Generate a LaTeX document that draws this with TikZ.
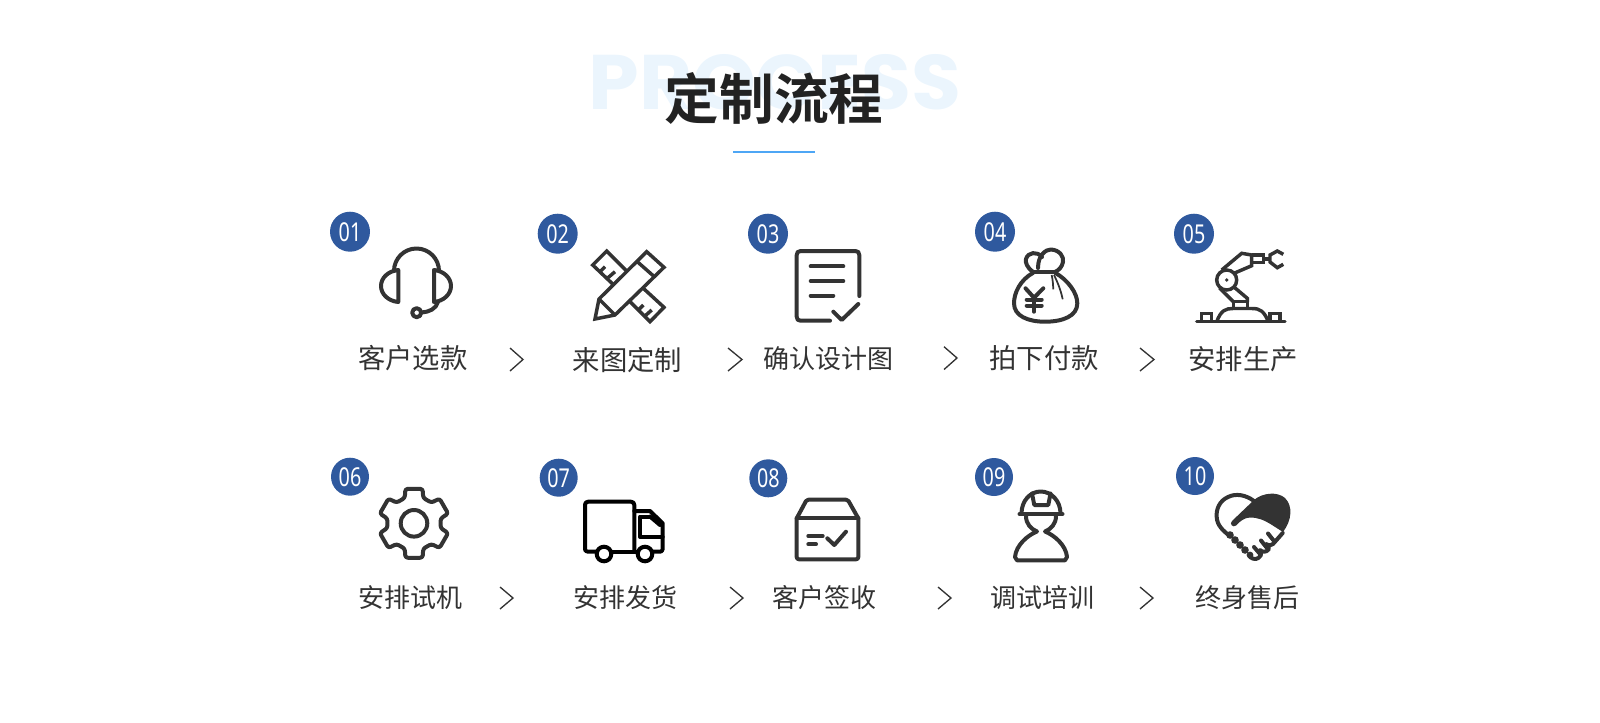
\documentclass[tikz,border=0pt]{standalone}
\usepackage{fontspec}
\usepackage{graphicx}
\usepackage{xcolor}
\newfontfamily\cjk{Noto Sans CJK SC}
\newfontfamily\cjkbold{Noto Sans CJK SC Bold}
\newfontfamily\latinbold{Poppins}[BoldFont=* Bold]
\newfontfamily\digitfont{Noto Sans}
\definecolor{badgeblue}{RGB}{47,89,158}
\definecolor{iconink}{RGB}{51,51,51}
\definecolor{labelink}{RGB}{51,51,51}
\definecolor{titleink}{RGB}{34,34,34}
\definecolor{ghostblue}{RGB}{235,245,253}
\definecolor{ruleblue}{RGB}{77,166,245}
\tikzset{
  badge/.style={circle,fill=badgeblue,text=white,inner sep=0pt,minimum size=#1*0.75pt,font=\digitfont\fontsize{19.5}{19.5}\selectfont},
  steplabel/.style={inner sep=0.75pt,text=labelink,font=\cjk\fontsize{#1}{#1}\selectfont},
  icon/.style={draw=iconink,line width=3pt,line join=round,line cap=round},
  thinicon/.style={draw=iconink,line width=2.6pt,line join=miter},
  truckline/.style={draw=black,line width=3pt,line join=round,line cap=round},
  chevron/.style={draw=iconink,line width=1pt,line join=miter}
}
\newcommand{\narrowdigits}[1]{\scalebox{0.76}[1]{#1}}
\begin{document}
\begin{tikzpicture}[x=0.75pt,y=0.75pt,yscale=-1,xscale=1]
\useasboundingbox (0,0) rectangle (1600,722);

% Text Node
\node (ghost) [inner sep=0.75pt,text=ghostblue,font=\latinbold\bfseries\fontsize{58}{58}\selectfont] at (775,82) {\scalebox{1.05}[1]{PROCESS}};
% Text Node
\node (title) [inner sep=0.75pt,text=titleink,font=\cjkbold\fontsize{41}{41}\selectfont] at (774.3,98) {定制流程};
%Straight Lines
\draw [ruleblue,line width=1.1pt] (733,152) -- (815,152) ;

%Number badges
\node (badgeA) [badge=40] at (350,231.7) {\narrowdigits{01}};
\node (badgeB) [badge=40] at (557.7,233.7) {\narrowdigits{02}};
\node (badgeC) [badge=40] at (768,233.7) {\narrowdigits{03}};
\node (badgeD) [badge=40] at (995,231.7) {\narrowdigits{04}};
\node (badgeE) [badge=40] at (1194,233.7) {\narrowdigits{05}};
\node (badgeF) [badge=38] at (350,476.7) {\narrowdigits{06}};
\node (badgeG) [badge=38] at (558.7,477.7) {\narrowdigits{07}};
\node (badgeH) [badge=38] at (768.3,478.3) {\narrowdigits{08}};
\node (badgeI) [badge=38] at (994,477) {\narrowdigits{09}};
\node (badgeJ) [badge=38] at (1195,476) {\narrowdigits{10}};

% Text Node
\node (labelA) [steplabel=20.5] at (412.7,358) {客户选款};
\node (labelB) [steplabel=20.5] at (627.5,360) {来图定制};
\node (labelC) [steplabel=19.5] at (828.5,359) {确认设计图};
\node (labelD) [steplabel=20.5] at (1044,358) {拍下付款};
\node (labelE) [steplabel=20.5] at (1243,359.5) {安排生产};
\node (labelF) [steplabel=19.5] at (410,597.7) {安排试机};
\node (labelG) [steplabel=19.5] at (625.5,597.7) {安排发货};
\node (labelH) [steplabel=19.5] at (824,597.7) {客户签收};
\node (labelI) [steplabel=19.5] at (1042,597.7) {调试培训};
\node (labelJ) [steplabel=19.5] at (1247,597.7) {终身售后};

%Chevrons
\draw [chevron] (510,348) -- (523,359.5) -- (510,371) ;
\draw [chevron] (728,348) -- (742,359.5) -- (728,371) ;
\draw [chevron] (944,346.7) -- (957,358) -- (944,369.5) ;
\draw [chevron] (1140,348) -- (1154,359.5) -- (1140,371) ;
\draw [chevron] (500,587) -- (513,598) -- (500,609) ;
\draw [chevron] (730,587) -- (743,598) -- (730,609) ;
\draw [chevron] (938,587) -- (951,598) -- (938,609) ;
\draw [chevron] (1140,587) -- (1153,598) -- (1140,609) ;

%Shape: headset
\draw [icon] (394,271) arc (180:360:22.5) ;
\draw [icon] (398.3,270) .. controls (388,271) and (381,278) .. (381,286) .. controls (381,294) and (388,301) .. (398.3,302) -- cycle ;
\draw [icon] (434,270) .. controls (444,271) and (451,278) .. (451,286) .. controls (451,294) and (444,301) .. (434,302) -- cycle ;
\draw [icon] (438,302) .. controls (436,309) and (429,312) .. (421.5,312.5) ;
\draw [icon] (416.7,312.7) circle (4.5) ;

%Shape: pencil and ruler
\draw [thinicon] (612.7,284) -- (592.7,265) -- (606.7,251) -- (626.7,271) ;
\draw [thinicon] (630,301.7) -- (650,321.7) -- (664,307.3) -- (643.3,288.3) ;
\draw [thinicon] (600,271.7) -- (605,266.7) ;
\draw [thinicon] (607.3,278.3) -- (615,271.7) ;
\draw [thinicon] (638.3,310) -- (643.3,305) ;
\draw [thinicon] (645,316) -- (651.7,310) ;
\draw [thinicon] (595,319) -- (599,299) -- (646.7,251.7) -- (664,267.3) -- (615,315) -- cycle ;
\draw [thinicon] (637.3,261.7) -- (655,277.3) ;
\draw [thinicon] (599,299) -- (615,315) ;

%Shape: document with check
\draw [icon] (859.3,296) -- (859.3,255) .. controls (859.3,252.5) and (858,251) .. (855.3,251) -- (800.7,251) .. controls (798,251) and (796.7,252.5) .. (796.7,255) -- (796.7,316.7) .. controls (796.7,319.5) and (798,320.7) .. (800.7,320.7) -- (830,320.7) ;
\draw [icon] (810.7,266.3) -- (843.3,266.3) ;
\draw [icon] (810.7,281) -- (843.3,281) ;
\draw [icon] (810.7,295.7) -- (833.3,295.7) ;
\draw [icon] (833.3,311.7) -- (841.7,320) -- (858.3,304) ;

%Shape: money bag
\draw [icon] (1033.3,272.7) .. controls (1020,280) and (1014,293) .. (1014,303.3) .. controls (1014,316) and (1028,321.7) .. (1045,321.7) .. controls (1063,321.7) and (1077.3,316) .. (1077.3,303.3) .. controls (1077.3,293) and (1068,280) .. (1055,272.7) ;
\draw [icon] (1033.3,272) -- (1055,272) ;
\draw [icon] (1033.3,272) .. controls (1027,268) and (1025,262) .. (1026,259) .. controls (1028,252) and (1037,251) .. (1042,257) ;
\draw [icon] (1038,268) .. controls (1038,255) and (1046,249.3) .. (1051,249.5) .. controls (1060,250) and (1064,257) .. (1063,262) .. controls (1062,267) and (1059,270) .. (1055,272) ;
\draw [icon] (1025.5,288.3) -- (1034,297.7) -- (1043.3,288.3) ;
\draw [icon] (1026.7,299.5) -- (1041.7,299.5) ;
\draw [icon] (1026.7,305.5) -- (1041.7,305.5) ;
\draw [icon] (1034,297.7) -- (1034,311.7) ;
\draw [draw=iconink,line width=1.3pt] (1051.7,275) .. controls (1053,281) and (1053,285) .. (1053.3,289.3) ;
\draw [draw=iconink,line width=1.3pt] (1054,275) .. controls (1058,283) and (1061,291) .. (1062.7,299.3) ;

%Shape: robot arm
\draw [thinicon,line cap=round] (1196.7,321.7) -- (1285,321.7) ;
\draw [thinicon] (1201.7,321.7) -- (1201.7,313.3) -- (1211.7,313.3) -- (1211.7,321.7) ;
\draw [thinicon] (1270,321.7) -- (1270,313.3) -- (1280,313.3) -- (1280,321.7) ;
\draw [thinicon] (1216.7,321.7) .. controls (1221,310) and (1226,308.5) .. (1233,308.5) -- (1252,308.5) .. controls (1260,308.5) and (1264,311) .. (1268.3,321.7) ;
\draw [thinicon] (1233.3,309) -- (1233.3,301.7) -- (1247.3,301.7) -- (1247.3,309) ;
\draw [thinicon] (1233.3,286.5) -- (1247.3,298.3) -- (1247.3,302) ;
\draw [thinicon] (1219.5,288) -- (1233.3,301.7) ;
\draw [thinicon] (1226.7,280) circle (10) ;
\fill [iconink] (1226.7,280) circle (1.8) ;
\draw [thinicon] (1221.7,270) -- (1241.7,253.3) -- (1251.7,255) -- (1251.7,265.7) -- (1234,273.3) ;
\draw [thinicon] (1251.7,255) -- (1263.3,255) -- (1263.3,262.3) -- (1251.7,262.3) ;
\draw [thinicon] (1263.3,259) -- (1270,259) ;
\draw [thinicon] (1283.3,254.3) -- (1277.3,251) -- (1270,255) -- (1270,262) -- (1277.3,267.7) -- (1283.3,264.3) ;

%Shape: gear
\draw [icon,rounded corners=1.8pt,shift={(414,523.3)}] (76:35.5) -- (104:35.5) -- (110:27) -- (130:27) -- (136:35.5) -- (164:35.5) -- (170:27) -- (190:27) -- (196:35.5) -- (224:35.5) -- (230:27) -- (250:27) -- (256:35.5) -- (284:35.5) -- (290:27) -- (310:27) -- (316:35.5) -- (344:35.5) -- (350:27) -- (370:27) -- (376:35.5) -- (404:35.5) -- (410:27) -- (430:27) -- cycle ;
\draw [icon] (414,523.3) circle (13.3) ;

%Shape: truck
\draw [truckline] (596,551.7) -- (588,551.7) .. controls (586,551.7) and (585,550.5) .. (585,549) -- (585,505) .. controls (585,503) and (586,501.7) .. (588,501.7) -- (631,501.7) .. controls (633,501.7) and (634.3,503) .. (634.3,505) -- (634.3,551.7) ;
\draw [truckline] (611.7,551.7) -- (636.7,551.7) ;
\draw [truckline] (634.3,511) -- (650,511) -- (662.7,523.3) -- (662.7,549) .. controls (662.7,551) and (661,551.7) .. (660,551.7) -- (653,551.7) ;
\draw [truckline] (650,516.5) -- (640,516.5) -- (640,537) -- (662.7,537) ;
\draw [truckline] (650,516.5) -- (660,525) ;
\draw [truckline] (604,554) circle (7.3) ;
\draw [truckline] (645,554) circle (7.3) ;

%Shape: parcel box
\draw [icon] (796.7,518.3) -- (806,501) .. controls (806.5,500) and (807.5,499.7) .. (808.5,499.7) -- (846,499.7) .. controls (847,499.7) and (848,500) .. (848.5,501) -- (858.3,518.3) -- (858.3,557) .. controls (858.3,558.5) and (857.5,559.3) .. (856,559.3) -- (799,559.3) .. controls (797.5,559.3) and (796.7,558.5) .. (796.7,557) -- cycle ;
\draw [icon] (796.7,518.3) -- (858.3,518.3) ;
\draw [icon] (808.3,536) -- (822.7,536) ;
\draw [icon] (808.3,544.3) -- (816,544.3) ;
\draw [icon] (827.3,538.3) -- (834.3,545) -- (846,531.7) ;

%Shape: worker
\draw [icon] (1021.5,513.5) .. controls (1021.5,501) and (1030,491.5) .. (1040.7,491.5) .. controls (1051.5,491.5) and (1060.5,501) .. (1060.5,513.5) ;
\draw [icon] (1019.5,514) -- (1062.5,514) ;
\draw [icon] (1032,493.5) -- (1034.3,505) -- (1048.3,505) -- (1050.5,493.5) ;
\draw [icon] (1026,516) .. controls (1026,524) and (1031,529) .. (1037,531.5) .. controls (1028,535) and (1016,545) .. (1015,557) -- (1017,560.3) -- (1065,560.3) -- (1067,557) .. controls (1066,545) and (1054,535) .. (1045,531.5) .. controls (1051,529) and (1056,524) .. (1056,516) ;

%Shape: handshake heart
\draw [icon] (1254,501) .. controls (1246,495) and (1236,493) .. (1228,497) .. controls (1219,501) and (1216,510) .. (1216.7,517) .. controls (1217,525) and (1223,531) .. (1230,536) ;
\fill [iconink] (1232,521) -- (1254,500) .. controls (1262,493) and (1277,491) .. (1285,498) .. controls (1293,506) and (1292,520) .. (1283,532) -- (1272,525) .. controls (1264,520) and (1258,517.5) .. (1250,517.5) .. controls (1245,517.5) and (1240,521) .. (1236,525.5) .. controls (1233,528) and (1229,524) .. (1232,521) -- cycle ;
\draw [icon] (1282.7,533) -- (1273,544) .. controls (1271,546) and (1268,546) .. (1266,544) -- (1269,549) .. controls (1266,553) and (1262,552) .. (1260,550) -- (1261,555) .. controls (1258,560) and (1254,560) .. (1250,557) ;
\draw [icon] (1268,533.5) -- (1274,541) ;
\draw [icon] (1261,540.5) -- (1267,548) ;
\draw [icon] (1254,547) -- (1260,554) ;
\fill [iconink] (1230,535) circle (3.8) (1235,540) circle (3.8) (1240,545) circle (3.8) (1245,550) circle (3.8) (1250,555) circle (3.4) ;
\end{tikzpicture}
\end{document}
